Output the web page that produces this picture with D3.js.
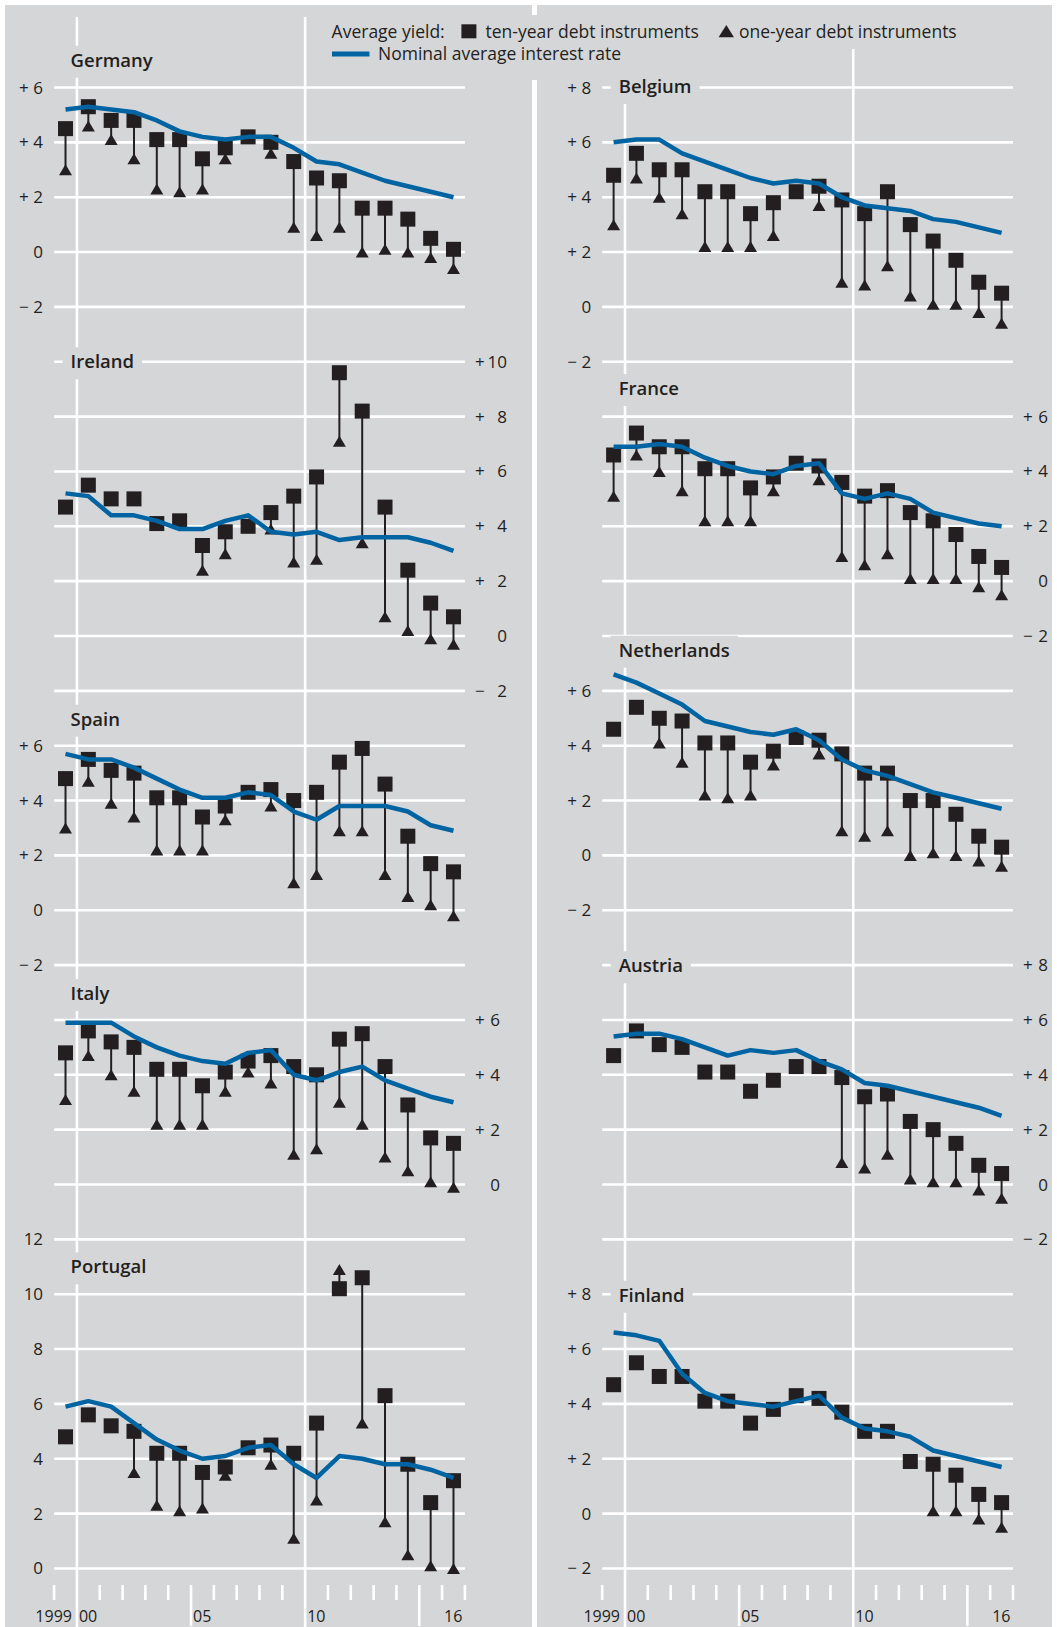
<!DOCTYPE html>
<html>
<head>
<meta charset="utf-8">
<script src="https://cdn.jsdelivr.net/npm/d3@7"></script>
<style>
  html, body { margin: 0; padding: 0; background: #fff; }
  svg text { font-family: "Open Sans", "Noto Sans", sans-serif; fill: #231f20; }
</style>
</head>
<body>
<svg id="chart" width="1057" height="1627"></svg>
<script>
// ---------- data (percent) ----------
const years = d3.range(1999, 2017);
const yearLabels = ["1999", "00", "05", "10", "16"];
const yearLabelYears = [1999, 2000, 2005, 2010, 2016];

const germanyTen  = [4.5, 5.3, 4.8, 4.8, 4.1, 4.1, 3.4, 3.8, 4.2, 4.0, 3.3, 2.7, 2.6, 1.6, 1.6, 1.2, 0.5, 0.1];
const germanyOne  = [3.0, 4.6, 4.1, 3.4, 2.3, 2.2, 2.3, 3.4, 4.2, 3.6, 0.9, 0.6, 0.9, 0.0, 0.1, 0.0, -0.2, -0.6];
const germanyRate = [5.2, 5.3, 5.2, 5.1, 4.8, 4.4, 4.2, 4.1, 4.2, 4.2, 3.8, 3.3, 3.2, 2.9, 2.6, 2.4, 2.2, 2.0];

const irelandTen  = [4.7, 5.5, 5.0, 5.0, 4.1, 4.2, 3.3, 3.8, 4.0, 4.5, 5.1, 5.8, 9.6, 8.2, 4.7, 2.4, 1.2, 0.7];
const irelandOne  = [null, null, null, null, null, null, 2.4, 3.0, 4.0, 3.9, 2.7, 2.8, 7.1, 3.4, 0.7, 0.2, -0.1, -0.3];
const irelandRate = [5.2, 5.1, 4.4, 4.4, 4.2, 3.9, 3.9, 4.2, 4.4, 3.8, 3.7, 3.8, 3.5, 3.6, 3.6, 3.6, 3.4, 3.1];

const spainTen  = [4.8, 5.5, 5.1, 5.0, 4.1, 4.1, 3.4, 3.8, 4.3, 4.4, 4.0, 4.3, 5.4, 5.9, 4.6, 2.7, 1.7, 1.4];
const spainOne  = [3.0, 4.7, 3.9, 3.4, 2.2, 2.2, 2.2, 3.3, 4.3, 3.8, 1.0, 1.3, 2.9, 2.9, 1.3, 0.5, 0.2, -0.2];
const spainRate = [5.7, 5.5, 5.5, 5.2, 4.8, 4.4, 4.1, 4.1, 4.3, 4.2, 3.6, 3.3, 3.8, 3.8, 3.8, 3.6, 3.1, 2.9];

const italyTen  = [4.8, 5.6, 5.2, 5.0, 4.2, 4.2, 3.6, 4.1, 4.5, 4.7, 4.3, 4.0, 5.3, 5.5, 4.3, 2.9, 1.7, 1.5];
const italyOne  = [3.1, 4.7, 4.0, 3.4, 2.2, 2.2, 2.2, 3.4, 4.1, 3.7, 1.1, 1.3, 3.0, 2.2, 1.0, 0.5, 0.1, -0.1];
const italyRate = [5.9, 5.9, 5.9, 5.4, 5.0, 4.7, 4.5, 4.4, 4.8, 4.9, 4.0, 3.8, 4.1, 4.3, 3.8, 3.5, 3.2, 3.0];

const portugalTen  = [4.8, 5.6, 5.2, 5.0, 4.2, 4.2, 3.5, 3.7, 4.4, 4.5, 4.2, 5.3, 10.2, 10.6, 6.3, 3.8, 2.4, 3.2];
const portugalOne  = [null, null, null, 3.5, 2.3, 2.1, 2.2, 3.4, 4.4, 3.8, 1.1, 2.5, 10.9, 5.3, 1.7, 0.5, 0.1, 0.0];
const portugalRate = [5.9, 6.1, 5.9, 5.3, 4.7, 4.3, 4.0, 4.1, 4.4, 4.5, 3.8, 3.3, 4.1, 4.0, 3.8, 3.8, 3.6, 3.3];

const belgiumTen  = [4.8, 5.6, 5.0, 5.0, 4.2, 4.2, 3.4, 3.8, 4.2, 4.4, 3.9, 3.4, 4.2, 3.0, 2.4, 1.7, 0.9, 0.5];
const belgiumOne  = [3.0, 4.7, 4.0, 3.4, 2.2, 2.2, 2.2, 2.6, 4.2, 3.7, 0.9, 0.8, 1.5, 0.4, 0.1, 0.1, -0.2, -0.6];
const belgiumRate = [6.0, 6.1, 6.1, 5.6, 5.3, 5.0, 4.7, 4.5, 4.6, 4.5, 4.0, 3.7, 3.6, 3.5, 3.2, 3.1, 2.9, 2.7];

const franceTen  = [4.6, 5.4, 4.9, 4.9, 4.1, 4.1, 3.4, 3.8, 4.3, 4.2, 3.6, 3.1, 3.3, 2.5, 2.2, 1.7, 0.9, 0.5];
const franceOne  = [3.1, 4.6, 4.0, 3.3, 2.2, 2.2, 2.2, 3.3, 4.3, 3.7, 0.9, 0.6, 1.0, 0.1, 0.1, 0.1, -0.2, -0.5];
const franceRate = [4.9, 4.9, 5.0, 4.9, 4.5, 4.2, 4.0, 3.9, 4.2, 4.3, 3.2, 3.0, 3.2, 3.0, 2.5, 2.3, 2.1, 2.0];

const netherlandsTen  = [4.6, 5.4, 5.0, 4.9, 4.1, 4.1, 3.4, 3.8, 4.3, 4.2, 3.7, 3.0, 3.0, 2.0, 2.0, 1.5, 0.7, 0.3];
const netherlandsOne  = [null, null, 4.1, 3.4, 2.2, 2.1, 2.2, 3.3, 4.3, 3.7, 0.9, 0.7, 0.9, 0.0, 0.1, 0.0, -0.2, -0.4];
const netherlandsRate = [6.6, 6.3, 5.9, 5.5, 4.9, 4.7, 4.5, 4.4, 4.6, 4.2, 3.5, 3.1, 2.9, 2.6, 2.3, 2.1, 1.9, 1.7];

const austriaTen  = [4.7, 5.6, 5.1, 5.0, 4.1, 4.1, 3.4, 3.8, 4.3, 4.3, 3.9, 3.2, 3.3, 2.3, 2.0, 1.5, 0.7, 0.4];
const austriaOne  = [null, null, null, null, null, null, null, null, null, null, 0.8, 0.6, 1.1, 0.2, 0.1, 0.1, -0.2, -0.5];
const austriaRate = [5.4, 5.5, 5.5, 5.3, 5.0, 4.7, 4.9, 4.8, 4.9, 4.5, 4.2, 3.7, 3.6, 3.4, 3.2, 3.0, 2.8, 2.5];

const finlandTen  = [4.7, 5.5, 5.0, 5.0, 4.1, 4.1, 3.3, 3.8, 4.3, 4.2, 3.7, 3.0, 3.0, 1.9, 1.8, 1.4, 0.7, 0.4];
const finlandOne  = [null, null, null, null, null, null, null, null, null, null, null, null, null, null, 0.1, 0.1, -0.2, -0.5];
const finlandRate = [6.6, 6.5, 6.3, 5.1, 4.4, 4.1, 4.0, 3.9, 4.1, 4.3, 3.5, 3.1, 3.0, 2.8, 2.3, 2.1, 1.9, 1.7];

// Panel table: country, its three series and its value range
const panelData = [
  { name: "Germany",     ten: germanyTen,     one: germanyOne,     rate: germanyRate,     lo: -2, hi: 6 },
  { name: "Ireland",     ten: irelandTen,     one: irelandOne,     rate: irelandRate,     lo: -2, hi: 10 },
  { name: "Spain",       ten: spainTen,       one: spainOne,       rate: spainRate,       lo: -2, hi: 6 },
  { name: "Italy",       ten: italyTen,       one: italyOne,       rate: italyRate,       lo: 0,  hi: 6 },
  { name: "Portugal",    ten: portugalTen,    one: portugalOne,    rate: portugalRate,    lo: 0,  hi: 12 },
  { name: "Belgium",     ten: belgiumTen,     one: belgiumOne,     rate: belgiumRate,     lo: -2, hi: 8 },
  { name: "France",      ten: franceTen,      one: franceOne,      rate: franceRate,      lo: -2, hi: 6 },
  { name: "Netherlands", ten: netherlandsTen, one: netherlandsOne, rate: netherlandsRate, lo: -2, hi: 6 },
  { name: "Austria",     ten: austriaTen,     one: austriaOne,     rate: austriaRate,     lo: -2, hi: 8 },
  { name: "Finland",     ten: finlandTen,     one: finlandOne,     rate: finlandRate,     lo: -2, hi: 8 }
];

// ---------- layout ----------
const W = 1057, H = 1627;
const GRAY = "#d5d6d8", INK = "#231f20", BLUE = "#0064a3", WHITE = "#ffffff";
const rowTop = 87.5, rowStep = 54.85;          // every gridline sits on a common lattice
const rowY = r => rowTop + r * rowStep;
const colLeft = [54.1, 602.2], colWidth = 410.8;

// where each panel sits: column, first/last gridline row, axis side, title baseline
const layout = {
  Germany:     { col: 0, top: 0,  bottom: 4,  side: "left",  title: 66.7 },
  Ireland:     { col: 0, top: 5,  bottom: 11, side: "right", title: 368.3, wide: true },
  Spain:       { col: 0, top: 12, bottom: 16, side: "left",  title: 725.7 },
  Italy:       { col: 0, top: 17, bottom: 20, side: "right", title: 1000 },
  Portugal:    { col: 0, top: 21, bottom: 27, side: "left",  title: 1273.3, plain: true },
  Belgium:     { col: 1, top: 0,  bottom: 5,  side: "left",  title: 93 },
  France:      { col: 1, top: 6,  bottom: 10, side: "right", title: 395 },
  Netherlands: { col: 1, top: 11, bottom: 15, side: "left",  title: 656.7 },
  Austria:     { col: 1, top: 16, bottom: 21, side: "right", title: 972.3 },
  Finland:     { col: 1, top: 22, bottom: 27, side: "left",  title: 1301.7 }
};

const xScales = colLeft.map(x0 => d3.scaleLinear().domain([1999, 2017]).range([x0, x0 + colWidth]));

const svg = d3.select("#chart");
svg.append("rect").attr("width", W).attr("height", H).attr("fill", WHITE);

// column backgrounds, separated by a white band
const gBack = svg.append("g");
gBack.append("rect").attr("x", 5).attr("y", 5).attr("width", 527).attr("height", H - 5).attr("fill", GRAY);
gBack.append("rect").attr("x", 537).attr("y", 5).attr("width", 515).attr("height", H - 5).attr("fill", GRAY);

const gGrid = svg.append("g");
const gCover = svg.append("g");
const gText = svg.append("g");
const gMarks = svg.append("g");

// horizontal gridlines per panel
panelData.forEach(p => {
  const L = layout[p.name];
  const x = xScales[L.col];
  const y = d3.scaleLinear().domain([p.lo, p.hi]).range([rowY(L.bottom), rowY(L.top)]);
  p.y = y; p.x = x; p.L = L;
  const ticks = d3.range(p.lo, p.hi + 1, 2);
  gGrid.selectAll(null).data(ticks).join("line")
    .attr("x1", x(1999)).attr("x2", x(2017))
    .attr("y1", d => y(d)).attr("y2", d => y(d))
    .attr("stroke", WHITE).attr("stroke-width", 2.6);
});

// vertical year lines (2000, 2010) and year ticks along the bottom
xScales.forEach(x => {
  [2000, 2010].forEach(yr => {
    gGrid.append("line").attr("x1", x(yr)).attr("x2", x(yr)).attr("y1", 17).attr("y2", H)
      .attr("stroke", WHITE).attr("stroke-width", 2.6);
  });
  d3.range(1999, 2018).filter(yr => yr !== 2000 && yr !== 2010).forEach(yr => {
    const long = (yr === 2005 || yr === 2015);
    gGrid.append("line").attr("x1", x(yr)).attr("x2", x(yr))
      .attr("y1", 1585).attr("y2", long ? 1626 : 1600)
      .attr("stroke", WHITE).attr("stroke-width", 2.6);
  });
  yearLabels.forEach((lab, i) => {
    const yr = yearLabelYears[i];
    const t = gText.append("text").attr("y", 1621.5).attr("font-size", 16).text(lab);
    if (yr === 1999) t.attr("x", x(2000) - 5).attr("text-anchor", "end");
    else t.attr("x", x(yr) + 2);
  });
});

// separator band between the two columns
gGrid.append("rect").attr("x", 532).attr("y", 0).attr("width", 5).attr("height", H).attr("fill", WHITE);

// value labels on each panel's axis
panelData.forEach(p => {
  const { L, x, y } = p;
  const ticks = d3.range(p.lo, p.hi + 1, 2);
  let signX, numX;
  if (L.side === "left") { signX = x(1999) - 35; numX = x(1999) - 11; }
  else { signX = x(2017) + 10; numX = x(2017) + (L.wide ? 42 : 35); }
  ticks.forEach(v => {
    const ty = y(v) + 6;
    if (!L.plain && v !== 0) {
      gText.append("text").attr("x", signX).attr("y", ty).attr("font-size", 17)
        .text(v > 0 ? "+" : "\u2212");
    }
    gText.append("text").attr("x", numX).attr("y", ty).attr("font-size", 17)
      .attr("text-anchor", "end").text(L.plain ? String(v) : String(Math.abs(v)));
  });
});

// panel titles on a gray patch that interrupts the grid
panelData.forEach(p => {
  const { L, x } = p;
  const tx = x(1999) + 16.5;
  const t = gText.append("text").attr("x", tx).attr("y", L.title)
    .attr("font-size", 18.5).attr("font-weight", 600).text(p.name);
  const bb = t.node().getBBox();
  gCover.append("rect").attr("x", bb.x - 8).attr("y", L.title - 21)
    .attr("width", bb.width + 16).attr("height", 32).attr("fill", GRAY);
});

// legend
const legend = svg.append("g");
legend.append("rect").attr("x", 324).attr("y", 15).attr("width", 636).attr("height", 34).attr("fill", GRAY);
legend.append("rect").attr("x", 324).attr("y", 49).attr("width", 304).attr("height", 31).attr("fill", GRAY);
legend.append("text").attr("x", 331.6).attr("y", 38.3).attr("font-size", 17.5).text("Average yield:");
legend.append("rect").attr("x", 461.4).attr("y", 24.3).attr("width", 15).attr("height", 14).attr("fill", INK);
legend.append("text").attr("x", 485.5).attr("y", 38.3).attr("font-size", 17.5).text("ten-year debt instruments");
legend.append("path").attr("d", "M718.6,37.3L734,37.3L726.3,25Z").attr("fill", INK);
legend.append("text").attr("x", 739).attr("y", 38.3).attr("font-size", 17.5).text("one-year debt instruments");
legend.append("line").attr("x1", 332).attr("x2", 369.5).attr("y1", 54).attr("y2", 54)
  .attr("stroke", BLUE).attr("stroke-width", 5);
legend.append("text").attr("x", 378).attr("y", 60).attr("font-size", 17.5).text("Nominal average interest rate");

// data marks
const SQ = 15, TW = 13, TH = 11;
panelData.forEach(p => {
  const { x, y } = p;
  const rows = years.map((yr, i) => ({ cx: x(yr + 0.5), ten: p.ten[i], one: p.one[i], rate: p.rate[i] }));
  const g = gMarks.append("g");
  const withOne = rows.filter(d => d.one !== null);
  g.selectAll(null).data(withOne).join("line")
    .attr("x1", d => d.cx).attr("x2", d => d.cx)
    .attr("y1", d => y(d.ten)).attr("y2", d => y(d.one))
    .attr("stroke", INK).attr("stroke-width", 2);
  g.selectAll(null).data(withOne).join("path")
    .attr("d", d => {
      const cy = y(d.one);
      return `M${d.cx},${cy - TH / 2}L${d.cx + TW / 2},${cy + TH / 2}L${d.cx - TW / 2},${cy + TH / 2}Z`;
    })
    .attr("fill", INK);
  g.selectAll(null).data(rows).join("rect")
    .attr("x", d => d.cx - SQ / 2).attr("y", d => y(d.ten) - SQ / 2)
    .attr("width", SQ).attr("height", SQ).attr("fill", INK);
  g.append("path").datum(rows)
    .attr("d", d3.line().x(d => d.cx).y(d => y(d.rate)))
    .attr("fill", "none").attr("stroke", BLUE).attr("stroke-width", 4.5)
    .attr("stroke-linejoin", "round");
});
</script>
</body>
</html>
